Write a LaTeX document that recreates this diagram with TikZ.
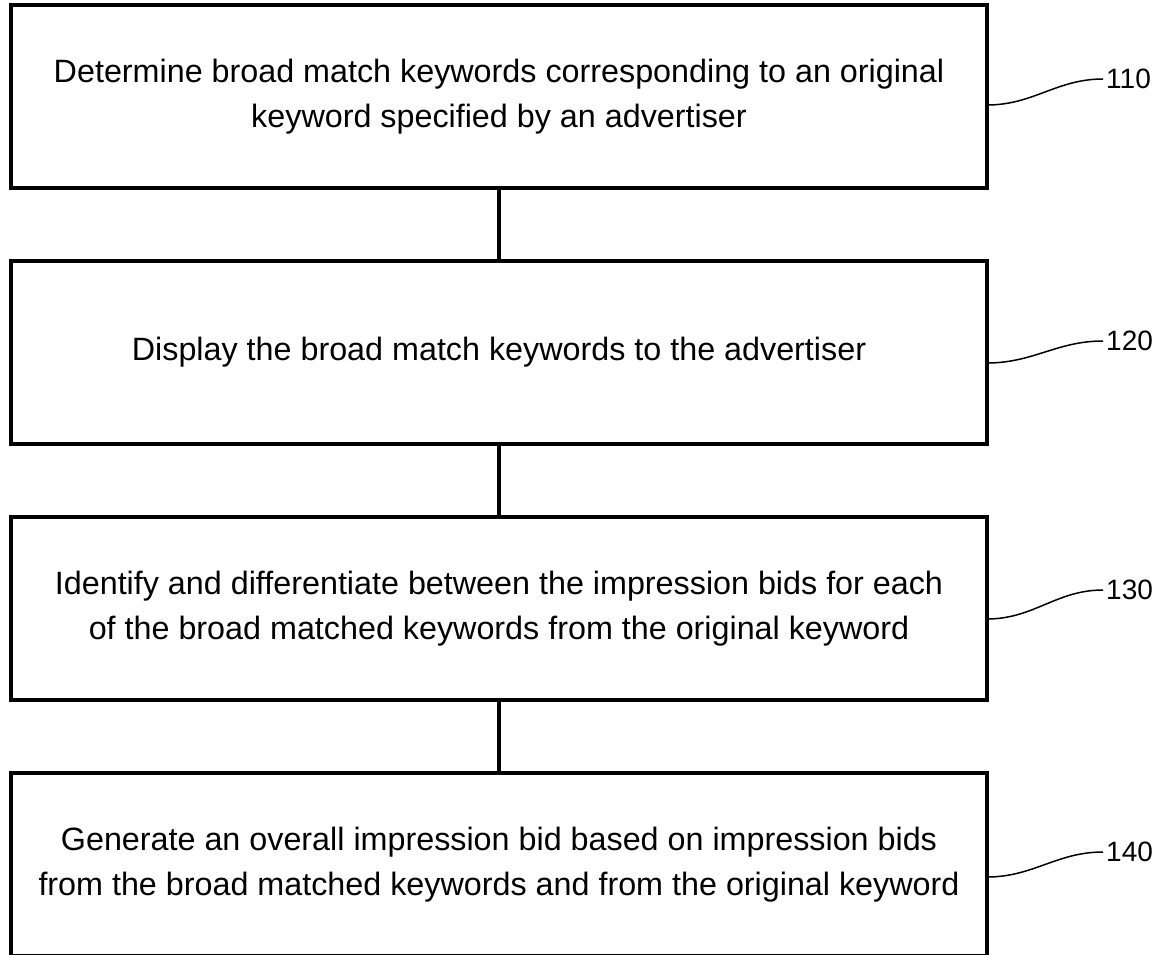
\documentclass[tikz,border=0pt]{standalone}
\usepackage{fontspec}
\setmainfont{Liberation Sans}
\begin{document}
\begin{tikzpicture}[x=1pt,y=-1pt,
    stepbox/.style={draw,line width=4pt,minimum width=976pt,minimum height=183pt,
      inner sep=0pt,outer sep=0pt,align=center,font=\fontsize{32.3}{45}\selectfont},
    reflabel/.style={anchor=west,inner sep=3pt,font=\fontsize{28}{30}\selectfont},
    leader/.style={line width=1.5pt}]
  \useasboundingbox (0,0) rectangle (1172,955);
  \draw
    (499,96.5) node[stepbox] (b1){Determine broad match keywords corresponding to an original\\keyword specified by an advertiser}
    (499,352.5) node[stepbox] (b2){Display the broad match keywords to the advertiser}
    (499,608.5) node[stepbox] (b3){Identify and differentiate between the impression bids for each\\of the broad matched keywords from the original keyword}
    (499,864.5) node[stepbox] (b4){Generate an overall impression bid based on impression bids\\from the broad matched keywords and from the original keyword};
  \begin{scope}[line width=4pt]
    \draw (b1.south) to (b2.north);
    \draw (b2.south) to (b3.north);
    \draw (b3.south) to (b4.north);
  \end{scope}
  \node[reflabel] (n110) at (1103,79) {110};
  \node[reflabel] (n120) at (1103,341) {120};
  \node[reflabel] (n130) at (1103,590) {130};
  \node[reflabel] (n140) at (1103,852) {140};
  \coordinate (s110) at (987,105);
  \coordinate (s120) at (987,363);
  \coordinate (s130) at (987,619);
  \coordinate (s140) at (987,877);
  \begin{scope}[leader]
    \draw (s110) to[out=0,in=180] (n110.west);
    \draw (s120) to[out=0,in=180] (n120.west);
    \draw (s130) to[out=0,in=180] (n130.west);
    \draw (s140) to[out=0,in=180] (n140.west);
  \end{scope}
\end{tikzpicture}
\end{document}
